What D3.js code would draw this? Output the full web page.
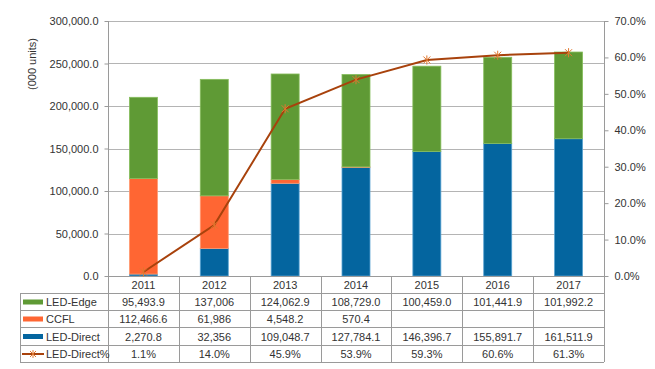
<!DOCTYPE html>
<html><head><meta charset="utf-8">
<script src="https://cdn.jsdelivr.net/npm/d3@7"></script>
<style>html,body{margin:0;padding:0;background:#fff;}svg{display:block;font-family:"Liberation Sans",Arial,sans-serif;}</style>
</head><body><svg id="c" width="655" height="369"></svg>
<script>
const years = ['2011','2012','2013','2014','2015','2016','2017'];
const ledEdge = [95493.9, 137006, 124062.9, 108729.0, 100459.0, 101441.9, 101992.2];
const ccfl = [112466.6, 61986, 4548.2, 570.4, null, null, null];
const ledDirect = [2270.8, 32356, 109048.7, 127784.1, 146396.7, 155891.7, 161511.9];
const ledDirectPct = [1.1, 14.0, 45.9, 53.9, 59.3, 60.6, 61.3];
const decimals = [1, 0, 1, 1, 1, 1, 1];
const leftTicks = [0, 50000, 100000, 150000, 200000, 250000, 300000];
const rightTicks = [0, 10, 20, 30, 40, 50, 60, 70];
const seriesNames = ['LED-Edge', 'CCFL', 'LED-Direct', 'LED-Direct%'];

const colors = {edge:'#5f9a35', ccfl:'#ff6633', direct:'#04659f', line:'#a8420c'};
const strokes = {edge:'#86bd5c', ccfl:'#ff9a70', direct:'#5aa3d2'};

const svg = d3.select('#c');
const L = 108, R = 604, T = 21, B = 276;
const x = d3.scaleBand().domain(years).range([L, R]).paddingInner(0).paddingOuter(0);
const y = d3.scaleLinear().domain([0, 300000]).range([B, T]);
const y2 = d3.scaleLinear().domain([0, 70]).range([B, T]);
const grid = '#b4b4b4', axisC = '#9a9a9a', txt = '#333';

// gridlines
svg.append('g').selectAll('line').data(leftTicks.slice(1)).join('line')
  .attr('x1', L).attr('x2', R).attr('y1', d => Math.round(y(d)) + 0.5).attr('y2', d => Math.round(y(d)) + 0.5)
  .attr('stroke', grid).attr('stroke-width', 1);

// left axis
const la = svg.append('g').attr('transform', `translate(${L + 0.5},0)`)
  .call(d3.axisLeft(y).tickValues(leftTicks).tickFormat(d3.format(',.1f')).tickSize(4).tickPadding(6));
la.select('.domain').remove();
la.selectAll('line').attr('stroke', axisC);
la.selectAll('text').attr('fill', txt).style('font-size', '11px').style('font-family', '"Liberation Sans",Arial,sans-serif');

// right axis
const ra = svg.append('g').attr('transform', `translate(${R + 0.5},0)`)
  .call(d3.axisRight(y2).tickValues(rightTicks).tickFormat(d => d3.format('.1f')(d) + '%').tickSize(4).tickPadding(6));
ra.select('.domain').remove();
ra.selectAll('line').attr('stroke', axisC);
ra.selectAll('text').attr('fill', txt).style('font-size', '11px').style('font-family', '"Liberation Sans",Arial,sans-serif');

// axis title
svg.append('text').attr('transform', 'translate(36,64) rotate(-90)').attr('text-anchor', 'middle')
  .attr('fill', txt).style('font-size', '11px').text('(000 units)');

// stacked bars
const rows = years.map((yr, i) => ({year: yr, direct: ledDirect[i], ccfl: ccfl[i] || 0, edge: ledEdge[i]}));
const stack = d3.stack().keys(['direct', 'ccfl', 'edge'])(rows);
const bw = 28;
stack.forEach(layer => {
  svg.append('g').selectAll('rect').data(layer).join('rect')
    .attr('x', d => x(d.data.year) + x.bandwidth() / 2 - bw / 2)
    .attr('width', bw)
    .attr('y', d => y(d[1]))
    .attr('height', d => Math.max(0, y(d[0]) - y(d[1])))
    .attr('fill', colors[layer.key])
    .attr('stroke', d => (d[1] - d[0]) > 0 ? strokes[layer.key] : 'none')
    .attr('stroke-width', 0.8);
});

// axes lines
svg.append('line').attr('x1', L + 0.5).attr('x2', L + 0.5).attr('y1', T).attr('y2', 362).attr('stroke', axisC);
svg.append('line').attr('x1', R + 0.5).attr('x2', R + 0.5).attr('y1', T).attr('y2', 362).attr('stroke', axisC);
svg.append('line').attr('x1', L).attr('x2', R).attr('y1', B + 0.5).attr('y2', B + 0.5).attr('stroke', axisC);

// line series
const cx = d => x(d) + x.bandwidth() / 2;
const lineData = years.map((yr, i) => [cx(yr), y2(ledDirectPct[i])]);
svg.append('path').attr('d', d3.line()(lineData)).attr('fill', 'none')
  .attr('stroke', colors.line).attr('stroke-width', 2);
function star(g, px, py, s) {
  const p = `M${px - s},${py - s}L${px + s},${py + s}M${px - s},${py + s}L${px + s},${py - s}M${px},${py - s * 1.3}L${px},${py + s * 1.3}`;
  g.append('path').attr('d', p).attr('stroke', '#e07830').attr('stroke-width', 1).attr('fill', 'none');
}
const mk = svg.append('g');
lineData.forEach(p => star(mk, p[0], p[1], 3.5));

// data table
const rowY = [293.5, 310.5, 327.5, 345.5, 362.5];
const tb = svg.append('g');
rowY.forEach(ry => tb.append('line').attr('x1', 20).attr('x2', R).attr('y1', ry).attr('y2', ry).attr('stroke', axisC));
tb.append('line').attr('x1', 20.5).attr('x2', 20.5).attr('y1', rowY[0]).attr('y2', rowY[4]).attr('stroke', axisC);
years.forEach((yr, i) => {
  if (i > 0) tb.append('line').attr('x1', Math.round(x(yr)) + 0.5).attr('x2', Math.round(x(yr)) + 0.5)
    .attr('y1', B).attr('y2', rowY[4]).attr('stroke', axisC);
});
// header
tb.selectAll('text.h').data(years).join('text').attr('class', 'h')
  .attr('x', d => cx(d)).attr('y', 289).attr('text-anchor', 'middle').attr('fill', txt).style('font-size', '11px').text(d => d);
const fmtVal = (v, i) => v == null ? '' : d3.format(',.' + decimals[i] + 'f')(v);
const tableRows = [
  ledEdge.map(fmtVal),
  ccfl.map(fmtVal),
  ledDirect.map(fmtVal),
  ledDirectPct.map(v => d3.format('.1f')(v) + '%')
];
tableRows.forEach((r, ri) => {
  const ty = (rowY[ri] + rowY[ri + 1]) / 2 + 4;
  r.forEach((t, i) => tb.append('text').attr('x', cx(years[i])).attr('y', ty).attr('text-anchor', 'middle')
    .attr('fill', txt).style('font-size', '11px').text(t));
  tb.append('text').attr('x', 46).attr('y', ty).attr('fill', txt).style('font-size', '11px').text(seriesNames[ri]);
});
// legend keys
const keyCols = [colors.edge, colors.ccfl, colors.direct];
keyCols.forEach((c, ri) => {
  const my = (rowY[ri] + rowY[ri + 1]) / 2;
  tb.append('rect').attr('x', 23).attr('y', my - 2.5).attr('width', 20).attr('height', 5).attr('fill', c);
});
{
  const my = (rowY[3] + rowY[4]) / 2;
  tb.append('line').attr('x1', 22).attr('x2', 44).attr('y1', my).attr('y2', my).attr('stroke', colors.line).attr('stroke-width', 2);
  star(tb, 33, my, 3);
}
</script></body></html>
